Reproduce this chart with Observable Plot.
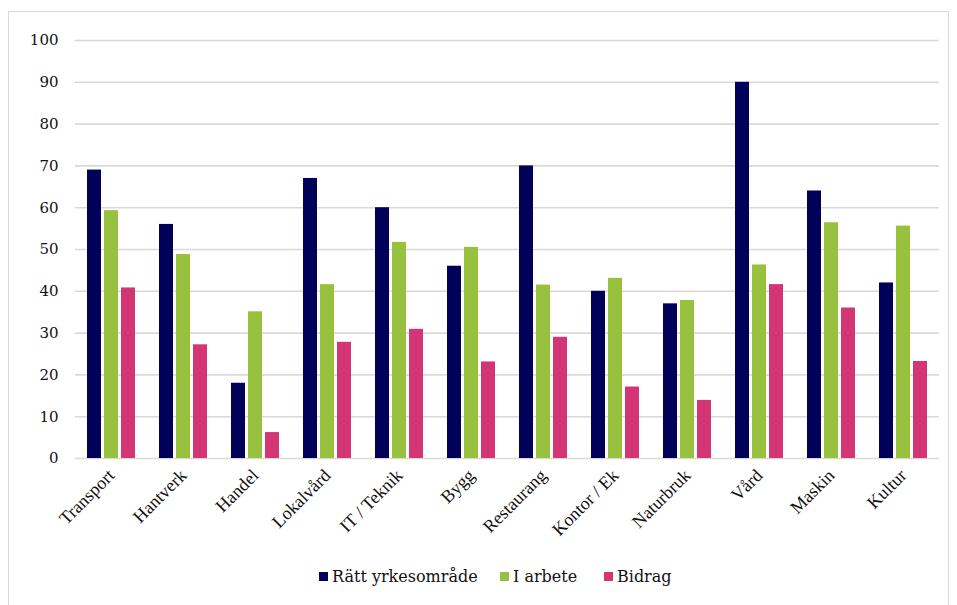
<!DOCTYPE html>
<html>
<head>
<meta charset="utf-8">
<script src="https://cdn.jsdelivr.net/npm/d3@7"></script>
<script src="https://cdn.jsdelivr.net/npm/@observablehq/plot@0.6"></script>
<style>
  html, body { margin: 0; padding: 0; background: #fff; }
  #wrap { position: relative; width: 957px; height: 605px; overflow: hidden; }
  #frame { position: absolute; left: 8px; top: 11px; width: 941px; height: 600px; border: 1px solid #d9d9d9; box-sizing: border-box; }
  #chart { position: absolute; left: 0; top: 0; }
  #legend { position: absolute; left: 0; top: 566px; width: 957px; height: 20px; color: #111; }
  .item { position: absolute; top: 0; display: flex; align-items: center; height: 20px; }
  .item span { font-family: "DejaVu Serif", serif; font-size: 16px; }
  .sw { width: 9px; height: 9px; margin-right: 4px; }
</style>
</head>
<body>
<div id="wrap">
  <div id="frame"></div>
  <div id="chart"></div>
  <div id="legend"></div>
</div>
<script>
const categories = ["Transport", "Hantverk", "Handel", "Lokalvård", "IT / Teknik", "Bygg", "Restaurang", "Kontor / Ek", "Naturbruk", "Vård", "Maskin", "Kultur"];
const series = ["Rätt yrkesområde", "I arbete", "Bidrag"];
const rattYrkesomrade = [69, 56, 18, 67, 60, 46, 70, 40, 37, 90, 64, 42];
const iArbete = [59.3, 48.8, 35.1, 41.6, 51.7, 50.5, 41.5, 43.1, 37.8, 46.3, 56.4, 55.6];
const bidrag = [40.8, 27.2, 6.2, 27.8, 30.9, 23.1, 29.0, 17.1, 13.9, 41.6, 36.0, 23.2];
const yTicks = [0, 10, 20, 30, 40, 50, 60, 70, 80, 90, 100];
const colors = ["#02015a", "#98c23d", "#d43574"];

const valuesBySeries = [rattYrkesomrade, iArbete, bidrag];
const data = categories.flatMap((c, i) => series.map((s, j) => ({category: c, series: s, value: valuesBySeries[j][i]})));

const chart = Plot.plot({
  width: 957,
  height: 555,
  marginLeft: 73,
  marginRight: 17,
  marginTop: 40,
  marginBottom: 97,
  fx: {domain: categories, padding: 0, label: null},
  x: {domain: series, axis: null, paddingInner: 0.2, paddingOuter: 0.68},
  y: {domain: [0, 100], label: null},
  color: {domain: series, range: colors},
  marks: [
    Plot.gridY(yTicks, {stroke: "#d9d9d9", strokeOpacity: 1, strokeWidth: 1.6}),
    Plot.axisY(yTicks, {tickSize: 0, tickPadding: 17, fontSize: 15, fontFamily: "DejaVu Serif", fill: "#111", label: null}),
    Plot.axisFx({anchor: "bottom", tickRotate: -45, tickSize: 0, tickPadding: 14, fontSize: 18, fontFamily: "Liberation Serif", fill: "#111", label: null}),
    Plot.barY(data, {fx: "category", x: "series", y: "value", fill: "series"})
  ]
});
document.getElementById("chart").appendChild(chart);

const legend = document.getElementById("legend");
const lefts = [319, 500, 604];
series.forEach((s, i) => {
  const it = document.createElement("div");
  it.className = "item";
  it.style.left = lefts[i] + "px";
  const sw = document.createElement("div");
  sw.className = "sw";
  sw.style.background = colors[i];
  const t = document.createElement("span");
  t.textContent = s;
  it.appendChild(sw);
  it.appendChild(t);
  legend.appendChild(it);
});
</script>
</body>
</html>
